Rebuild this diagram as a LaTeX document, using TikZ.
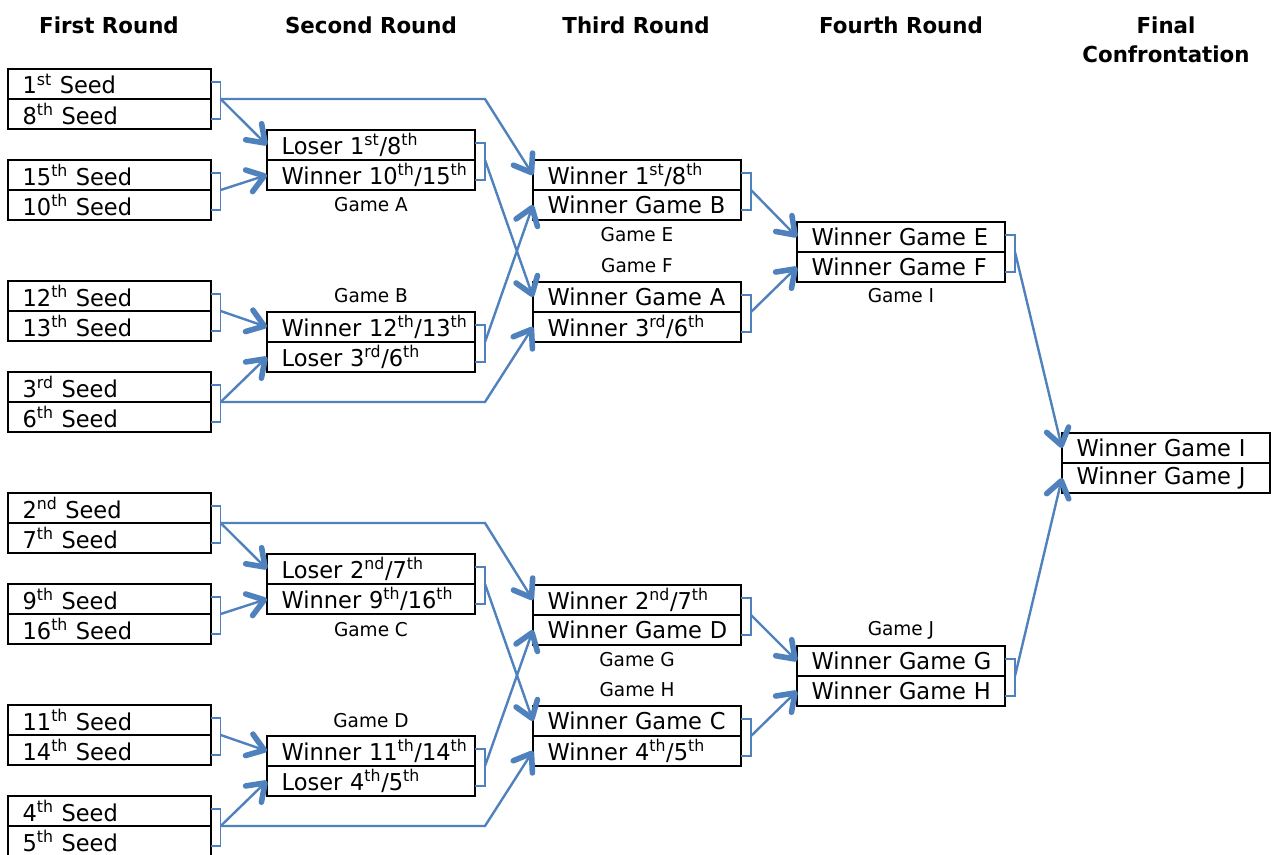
\documentclass[tikz,border=0pt]{standalone}
\usepackage{fontspec}
\setmainfont[FakeStretch=0.97]{DejaVu Sans}
\usepackage{tikz}
\usetikzlibrary{arrows.meta,positioning}
\definecolor{linkblue}{RGB}{79,129,189}

\begin{document}
\begin{tikzpicture}[x=0.75pt, y=-0.75pt,
    >={Straight Barb[length=12pt,width=17pt,line width=4.2pt,round]},
    slot/.style={draw, line width=1.7pt, outer sep=0pt, inner xsep=0pt, inner ysep=0pt,
        text width=#1, align=left, minimum height=22.5pt, font=\fontsize{17.4}{20}\selectfont,
        execute at begin node={\hspace*{11pt}}},
    slot/.default=156pt,
    head/.style={font=\bfseries\fontsize{16.5}{21.75}\selectfont, align=center},
    game/.style={font=\fontsize{14.3}{17}\selectfont},
    bracket/.style={draw=linkblue, line width=1.1pt},
    arr/.style={->, draw=linkblue, line width=1.8pt}]
    \useasboundingbox (0,0) rectangle (1272,855);

    % Round titles
    \node [head] (h1) at (109,25)  {First Round};
    \node [head] (h2) at (371,25)  {Second Round};
    \node [head] (h3) at (636,25)  {Third Round};
    \node [head] (h4) at (901,25)  {Fourth Round};
    \node [head] (h5) at (1166,40) {Final\\Confrontation};

    % First round {s1, s8, s15, s10, etc}
    \node [slot=152pt, anchor=north west] (s1)  at (8,69)  {1\textsuperscript{st} Seed};
    \node [slot=152pt, below=0pt of s1]   (s8)             {8\textsuperscript{th} Seed};
    \node [slot=152pt, anchor=north west] (s15) at (8,160) {15\textsuperscript{th} Seed};
    \node [slot=152pt, below=0pt of s15]  (s10)            {10\textsuperscript{th} Seed};
    \node [slot=152pt, anchor=north west] (s12) at (8,281) {12\textsuperscript{th} Seed};
    \node [slot=152pt, below=0pt of s12]  (s13)            {13\textsuperscript{th} Seed};
    \node [slot=152pt, anchor=north west] (s3)  at (8,372) {3\textsuperscript{rd} Seed};
    \node [slot=152pt, below=0pt of s3]   (s6)             {6\textsuperscript{th} Seed};
    \node [slot=152pt, anchor=north west] (s2)  at (8,493) {2\textsuperscript{nd} Seed};
    \node [slot=152pt, below=0pt of s2]   (s7)             {7\textsuperscript{th} Seed};
    \node [slot=152pt, anchor=north west] (s9)  at (8,584) {9\textsuperscript{th} Seed};
    \node [slot=152pt, below=0pt of s9]   (s16)            {16\textsuperscript{th} Seed};
    \node [slot=152pt, anchor=north west] (s11) at (8,705) {11\textsuperscript{th} Seed};
    \node [slot=152pt, below=0pt of s11]  (s14)            {14\textsuperscript{th} Seed};
    \node [slot=152pt, anchor=north west] (s4)  at (8,796) {4\textsuperscript{th} Seed};
    \node [slot=152pt, below=0pt of s4]   (s5)             {5\textsuperscript{th} Seed};

    % Second round
    \node [slot, anchor=north west] (gA1) at (267,130) {Loser 1\textsuperscript{st}/8\textsuperscript{th}};
    \node [slot, below=0pt of gA1]  (gA2)              {Winner 10\textsuperscript{th}/15\textsuperscript{th}};
    \node [slot, anchor=north west] (gB1) at (267,312) {Winner 12\textsuperscript{th}/13\textsuperscript{th}};
    \node [slot, below=0pt of gB1]  (gB2)              {Loser 3\textsuperscript{rd}/6\textsuperscript{th}};
    \node [slot, anchor=north west] (gC1) at (267,554) {Loser 2\textsuperscript{nd}/7\textsuperscript{th}};
    \node [slot, below=0pt of gC1]  (gC2)              {Winner 9\textsuperscript{th}/16\textsuperscript{th}};
    \node [slot, anchor=north west] (gD1) at (267,736) {Winner 11\textsuperscript{th}/14\textsuperscript{th}};
    \node [slot, below=0pt of gD1]  (gD2)              {Loser 4\textsuperscript{th}/5\textsuperscript{th}};

    % Third round
    \node [slot, anchor=north west] (gE1) at (533,160) {Winner 1\textsuperscript{st}/8\textsuperscript{th}};
    \node [slot, below=0pt of gE1]  (gE2)              {Winner Game B};
    \node [slot, anchor=north west] (gF1) at (533,282) {Winner Game A};
    \node [slot, below=0pt of gF1]  (gF2)              {Winner 3\textsuperscript{rd}/6\textsuperscript{th}};
    \node [slot, anchor=north west] (gG1) at (533,585) {Winner 2\textsuperscript{nd}/7\textsuperscript{th}};
    \node [slot, below=0pt of gG1]  (gG2)              {Winner Game D};
    \node [slot, anchor=north west] (gH1) at (533,706) {Winner Game C};
    \node [slot, below=0pt of gH1]  (gH2)              {Winner 4\textsuperscript{th}/5\textsuperscript{th}};

    % Fourth round and final
    \node [slot, anchor=north west] (gI1) at (797,222)  {Winner Game E};
    \node [slot, below=0pt of gI1]  (gI2)               {Winner Game F};
    \node [slot, anchor=north west] (gJ1) at (797,646)  {Winner Game G};
    \node [slot, below=0pt of gJ1]  (gJ2)               {Winner Game H};
    \node [slot, anchor=north west] (gK1) at (1062,433) {Winner Game I};
    \node [slot, below=0pt of gK1]  (gK2)               {Winner Game J};

    % Game labels
    \node [game] (lA) at (371,205) {Game A};
    \node [game] (lB) at (371,296) {Game B};
    \node [game] (lC) at (371,630) {Game C};
    \node [game] (lD) at (371,721) {Game D};
    \node [game] (lE) at (637,235) {Game E};
    \node [game] (lF) at (637,266) {Game F};
    \node [game] (lG) at (637,660) {Game G};
    \node [game] (lH) at (637,690) {Game H};
    \node [game] (lI) at (901,296) {Game I};
    \node [game] (lJ) at (901,630) {Game J};

    % Brackets
    \draw [bracket] ([yshift=1.5pt]s1.east)  -| ([xshift=7.5pt]s1.south east)  coordinate (b18)   |- ([yshift=-3.75pt]s8.east);
    \draw [bracket] ([yshift=1.5pt]s15.east) -| ([xshift=7.5pt]s15.south east) coordinate (b1510) |- ([yshift=-3.75pt]s10.east);
    \draw [bracket] ([yshift=1.5pt]s12.east) -| ([xshift=7.5pt]s12.south east) coordinate (b1213) |- ([yshift=-3.75pt]s13.east);
    \draw [bracket] ([yshift=1.5pt]s3.east)  -| ([xshift=7.5pt]s3.south east)  coordinate (b36)   |- ([yshift=-3.75pt]s6.east);
    \draw [bracket] ([yshift=1.5pt]s2.east)  -| ([xshift=7.5pt]s2.south east)  coordinate (b27)   |- ([yshift=-3.75pt]s7.east);
    \draw [bracket] ([yshift=1.5pt]s9.east)  -| ([xshift=7.5pt]s9.south east)  coordinate (b916)  |- ([yshift=-3.75pt]s16.east);
    \draw [bracket] ([yshift=1.5pt]s11.east) -| ([xshift=7.5pt]s11.south east) coordinate (b1114) |- ([yshift=-3.75pt]s14.east);
    \draw [bracket] ([yshift=1.5pt]s4.east)  -| ([xshift=7.5pt]s4.south east)  coordinate (b45)   |- ([yshift=-3.75pt]s5.east);
    \draw [bracket] ([yshift=1.5pt]gA1.east) -| ([xshift=7.5pt]gA1.south east) coordinate (bA) |- ([yshift=-3.75pt]gA2.east);
    \draw [bracket] ([yshift=1.5pt]gB1.east) -| ([xshift=7.5pt]gB1.south east) coordinate (bB) |- ([yshift=-3.75pt]gB2.east);
    \draw [bracket] ([yshift=1.5pt]gC1.east) -| ([xshift=7.5pt]gC1.south east) coordinate (bC) |- ([yshift=-3.75pt]gC2.east);
    \draw [bracket] ([yshift=1.5pt]gD1.east) -| ([xshift=7.5pt]gD1.south east) coordinate (bD) |- ([yshift=-3.75pt]gD2.east);
    \draw [bracket] ([yshift=1.5pt]gE1.east) -| ([xshift=7.5pt]gE1.south east) coordinate (bE) |- ([yshift=-3.75pt]gE2.east);
    \draw [bracket] ([yshift=1.5pt]gF1.east) -| ([xshift=7.5pt]gF1.south east) coordinate (bF) |- ([yshift=-3.75pt]gF2.east);
    \draw [bracket] ([yshift=1.5pt]gG1.east) -| ([xshift=7.5pt]gG1.south east) coordinate (bG) |- ([yshift=-3.75pt]gG2.east);
    \draw [bracket] ([yshift=1.5pt]gH1.east) -| ([xshift=7.5pt]gH1.south east) coordinate (bH) |- ([yshift=-3.75pt]gH2.east);
    \draw [bracket] ([yshift=1.5pt]gI1.east) -| ([xshift=7.5pt]gI1.south east) coordinate (bI) |- ([yshift=-3.75pt]gI2.east);
    \draw [bracket] ([yshift=1.5pt]gJ1.east) -| ([xshift=7.5pt]gJ1.south east) coordinate (bJ) |- ([yshift=-3.75pt]gJ2.east);

    % Paths, upper half
    \draw [arr] (b18)   -- (gA1.west);
    \draw [arr] (b18)   -- (b18 -| bA) -- (gE1.west);
    \draw [arr] (b1510) -- (gA2.west);
    \draw [arr] (b1213) -- (gB1.west);
    \draw [arr] (b36)   -- (gB2.west);
    \draw [arr] (b36)   -- (b36 -| bB) -- (gF2.west);
    \draw [arr] (bA)    -- (gF1.west);
    \draw [arr] (bB)    -- (gE2.west);
    \draw [arr] (bE)    -- (gI1.west);
    \draw [arr] (bF)    -- (gI2.west);
    \draw [arr] (bI)    -- (gK1.west);

    % Paths, lower half
    \draw [arr] (b27)   -- (gC1.west);
    \draw [arr] (b27)   -- (b27 -| bC) -- (gG1.west);
    \draw [arr] (b916)  -- (gC2.west);
    \draw [arr] (b1114) -- (gD1.west);
    \draw [arr] (b45)   -- (gD2.west);
    \draw [arr] (b45)   -- (b45 -| bD) -- (gH2.west);
    \draw [arr] (bC)    -- (gH1.west);
    \draw [arr] (bD)    -- (gG2.west);
    \draw [arr] (bG)    -- (gJ1.west);
    \draw [arr] (bH)    -- (gJ2.west);
    \draw [arr] (bJ)    -- (gK2.west);
\end{tikzpicture}
\end{document}
